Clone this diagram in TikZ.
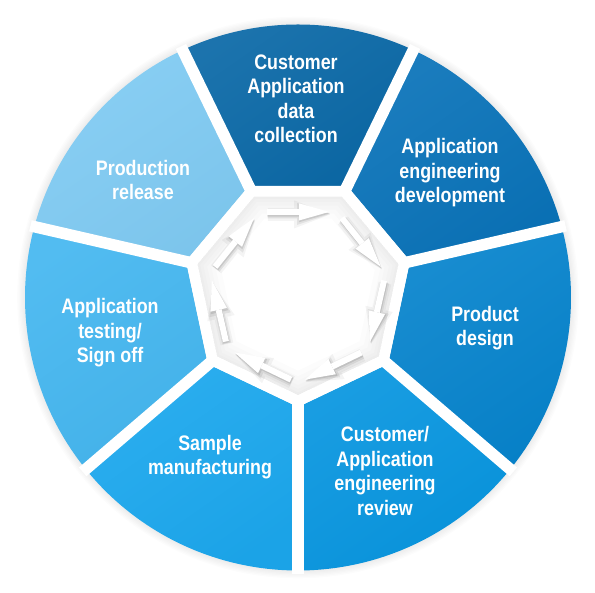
\documentclass[tikz,border=0pt]{standalone}
\usepackage{fontspec}
\setmainfont[FakeStretch=0.85]{Liberation Sans}
\usetikzlibrary{arrows.meta,calc}
\definecolor{cA}{HTML}{0B69A7}
\definecolor{cB}{HTML}{0A73B9}
\definecolor{cC}{HTML}{0784CD}
\definecolor{cD}{HTML}{0896E0}
\definecolor{cE}{HTML}{1CA8EE}
\definecolor{cF}{HTML}{45B7F0}
\definecolor{cG}{HTML}{80CBF3}
\tikzset{
  seglab/.style={text=white, font=\bfseries\fontsize{21}{24.5}\selectfont, align=center, inner sep=0pt},
  gapline/.style={draw=white, line width=11.5pt},
  cyclearrow/.style={draw=white, line width=6pt, -{Triangle[length=30pt,width=17pt,line width=0pt]}},
  arrowshadowA/.style={draw=black, line width=13pt, -{Triangle[length=36pt,width=28pt,line width=0pt]}},
  arrowshadowB/.style={draw=black, line width=9pt, -{Triangle[length=33pt,width=22pt,line width=0pt]}},
  arrowshadowC/.style={draw=black, line width=6.5pt, -{Triangle[length=31pt,width=18pt,line width=0pt]}},
}
\begin{document}
\begin{tikzpicture}[x=1pt,y=1pt]
\useasboundingbox (0,0) rectangle (595,593);
\fill[white] (0,0) rectangle (595,593);
\coordinate (C) at (298,295.5);
\coordinate (P) at (298,302);
% soft halo round the disc
\foreach \i in {1,...,6}
  \fill[black, opacity=0.012] (C) circle ({273+1.3*\i});
% segments
\foreach \a/\b/\c in {65/115/cA,115/165/cG,165/219/cF,219/270/cE,270/321/cD,321/375/cC,15/65/cB}{
  \shade[top color=\c!93!white, bottom color=\c!97!black, shading angle=35]
    ($(P)+(\a:116)$) -- ($(C)+(\a:273)$) arc[start angle=\a, end angle=\b, radius=273]
    -- ($(P)+(\b:116)$) -- cycle;
}
% white centre
\fill[white] ($(P)+(15:116)$) -- ($(P)+(65:116)$) -- ($(P)+(115:116)$) -- ($(P)+(165:116)$)
  -- ($(P)+(219:116)$) -- ($(P)+(270:116)$) -- ($(P)+(321:116)$) -- cycle;
% gaps
\foreach \a in {15,65,115,165,219,270,321}
  \draw[gapline] ($(P)+(\a:100)$) -- ($(C)+(\a:277)$);
% inset shadow of the hole
\begin{scope}
  \clip ($(P)+(15:104)$) -- ($(P)+(65:104)$) -- ($(P)+(115:104)$) -- ($(P)+(165:104)$)
    -- ($(P)+(219:104)$) -- ($(P)+(270:104)$) -- ($(P)+(321:104)$) -- cycle;
  \foreach \w in {44,34,26,18,11,5}
    \draw[black, opacity=0.011, line width=\w pt, line join=round]
      ($(P)+(15:104)$) -- ($(P)+(65:104)$) -- ($(P)+(115:104)$) -- ($(P)+(165:104)$)
      -- ($(P)+(219:104)$) -- ($(P)+(270:104)$) -- ($(P)+(321:104)$) -- cycle;
\end{scope}
% cycle of arrows
\coordinate (O) at (298,300);
\foreach \k in {1,...,8}
  \coordinate (q\k) at ($(O)+({115.714-51.4286*(\k-1)}:90)$);
\foreach \k [evaluate=\k as \n using int(\k+1)] in {1,...,7}{
  \coordinate (a\k) at ($(q\k)!0.1!(q\n)$);
  \coordinate (b\k) at ($(q\k)!0.9!(q\n)$);
}
\begin{scope}[transparency group, opacity=0.045]
  \foreach \k in {1,...,7}
    \draw[arrowshadowA] ([shift={(1,-2.5)}]a\k) -- ([shift={(1,-2.5)}]b\k);
\end{scope}
\begin{scope}[transparency group, opacity=0.07]
  \foreach \k in {1,...,7}
    \draw[arrowshadowB] ([shift={(0.8,-2)}]a\k) -- ([shift={(0.8,-2)}]b\k);
\end{scope}
\begin{scope}[transparency group, opacity=0.10]
  \foreach \k in {1,...,7}
    \draw[arrowshadowC] ([shift={(0.6,-1.4)}]a\k) -- ([shift={(0.6,-1.4)}]b\k);
\end{scope}
\foreach \k in {1,...,7}
  \draw[cyclearrow] (a\k) -- (b\k);
% labels
\node[seglab] (collect) at (296,494) {Customer\\Application\\data\\collection};
\node[seglab] (develop) at (450,420) {Application\\engineering\\development};
\node[seglab] (design) at (485,265) {Product\\design};
\node[seglab] (review) at (385,122) {Customer/\\Application\\engineering\\review};
\node[seglab] (sample) at (210,136) {Sample\\manufacturing};
\node[seglab] (testing) at (110,260) {Application\\testing/\\Sign off};
\node[seglab] (release) at (143,413) {Production\\release};
\end{tikzpicture}
\end{document}
